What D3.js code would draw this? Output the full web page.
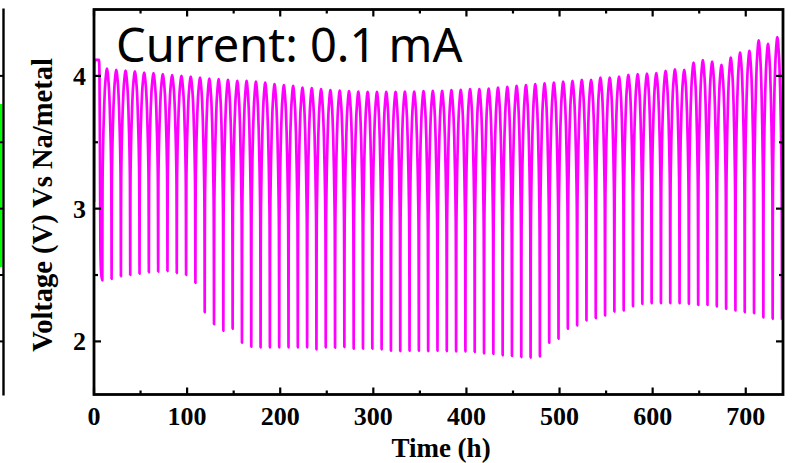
<!DOCTYPE html>
<html><head><meta charset="utf-8">
<script src="https://cdn.jsdelivr.net/npm/d3@7"></script>
<style>body{margin:0;background:#fff}svg{display:block}</style>
</head><body>
<svg id="c" width="795" height="463"></svg>
<script>
// ---- data ----
const timeTicks = [0, 100, 200, 300, 400, 500, 600, 700];
const timeMinorTicks = [50, 150, 250, 350, 450, 550, 650];
const voltTicks = [2, 3, 4];
const voltMinorTicks = [2.5, 3.5];
const title = "Current: 0.1 mA";
const xTitle = "Time (h)";
const yTitle = "Voltage (V) Vs Na/metal";

// first (formation) cycle: [time h, voltage V]
const firstCycle = [[0, 3.05], [0.3, 4.08], [0.8, 4.12], [5.4, 4.12], [5.9, 4.0], [6.4, 3.4], [6.9, 2.7], [7.6, 2.52], [8.9, 2.46]];

// end-of-discharge times (h) and voltages (V)
const troughTimes = [8.9, 18.9, 28.9, 38.9, 48.9, 58.9, 68.9, 78.9, 88.9, 98.9,
  108.9, 118.9, 128.9, 138.9, 148.9, 158.9, 168.9, 178.9, 188.9, 198.9,
  208.9, 218.9, 228.9, 238.9, 248.9, 258.9, 268.9, 278.9, 288.9, 298.9,
  308.9, 318.9, 328.9, 338.9, 348.9, 358.9, 368.9, 378.9, 388.9, 398.9,
  408.9, 418.9, 428.9, 438.9, 448.9, 458.9, 468.9, 478.9, 488.9, 498.9,
  508.9, 518.9, 528.9, 538.9, 548.9, 558.9, 568.9, 578.9, 588.9, 598.9,
  608.9, 618.9, 628.9, 638.9, 648.9, 658.9, 668.9, 678.9, 688.9, 698.9,
  708.9, 718.9, 728.9, 738.9];
const troughV = [2.46, 2.47, 2.49, 2.50, 2.51, 2.52, 2.525, 2.53, 2.515, 2.50,
  2.44, 2.22, 2.13, 2.08, 2.095, 1.99, 1.96, 1.955, 1.955, 1.955,
  1.955, 1.955, 1.955, 1.94, 1.955, 1.953, 1.957, 1.945, 1.945, 1.945,
  1.94, 1.93, 1.927, 1.93, 1.93, 1.927, 1.93, 1.927, 1.925, 1.925,
  1.92, 1.91, 1.905, 1.895, 1.89, 1.882, 1.878, 1.887, 1.99, 2.02,
  2.095, 2.12, 2.158, 2.175, 2.195, 2.225, 2.233, 2.265, 2.283, 2.288,
  2.288, 2.288, 2.288, 2.283, 2.275, 2.275, 2.263, 2.245, 2.233, 2.22,
  2.212, 2.18, 2.17, 2.163];
// end-of-charge voltages of cycles 1..73
const peakV = [4.055, 4.045, 4.04, 4.035, 4.025, 4.02, 4.013, 4.005, 4.0, 3.995,
  3.987, 3.98, 3.975, 3.97, 3.962, 3.962, 3.957, 3.95, 3.938, 3.93,
  3.925, 3.912, 3.908, 3.9, 3.893, 3.89, 3.885, 3.882, 3.88, 3.88,
  3.88, 3.88, 3.882, 3.882, 3.885, 3.887, 3.887, 3.892, 3.895, 3.9,
  3.9, 3.905, 3.912, 3.917, 3.925, 3.93, 3.938, 3.943, 3.95, 3.957,
  3.962, 3.97, 3.97, 3.987, 3.987, 3.995, 4.008, 4.013, 4.018, 4.02,
  4.037, 4.05, 4.045, 4.1, 4.118, 4.107, 4.083, 4.137, 4.175, 4.188,
  4.268, 4.242, 4.293];
// normalised shape of one charge / discharge half cycle [time frac, voltage frac]
const chargeShape = [[0, 0], [0.01, 0.08], [0.03, 0.32], [0.06, 0.46], [0.12, 0.57], [0.25, 0.71], [0.4, 0.82], [0.55, 0.9], [0.75, 0.96], [0.9, 0.99], [1, 1]];
const dischargeShape = [[0, 1], [0.1, 0.99], [0.25, 0.96], [0.45, 0.9], [0.6, 0.82], [0.75, 0.7], [0.88, 0.56], [0.94, 0.45], [0.97, 0.28], [0.99, 0.07], [1, 0]];
const halfCycle = 5; // h

// ---- layout ----
const L = 94, R = 783, T = 9.5, B = 394.5;
const svg = d3.select("#c");
const x = d3.scaleLinear().domain([0, 740]).range([L, R]);
const y = d3.scaleLinear().domain([1.6, 4.5]).range([B, T]);

// neighbour panel edge (cut off on the left)
svg.append("rect").attr("x", 0).attr("y", 104).attr("width", 2.4).attr("height", 163).attr("fill", "#00ff00");
svg.append("line").attr("x1", 3.5).attr("x2", 3.5).attr("y1", T - 1).attr("y2", B + 1).attr("stroke", "#000").attr("stroke-width", 2.4);
svg.selectAll(".nt").data(voltTicks.concat(voltMinorTicks)).join("line")
  .attr("x1", 0).attr("x2", 3.5).attr("y1", d => y(d)).attr("y2", d => y(d))
  .attr("stroke", "#000").attr("stroke-width", 2);

// ---- build the voltage trace ----
const pts = firstCycle.map(d => [d[0], d[1]]);
for (let j = 0; j < peakV.length; j++) {
  const t0 = troughTimes[j], v0 = troughV[j], vp = peakV[j], v1 = troughV[j + 1];
  chargeShape.forEach((s, i) => { if (i > 0) pts.push([t0 + s[0] * halfCycle, v0 + s[1] * (vp - v0)]); });
  dischargeShape.forEach((s, i) => { if (i > 0) pts.push([t0 + halfCycle + s[0] * halfCycle, v1 + s[1] * (vp - v1)]); });
}
svg.append("clipPath").attr("id", "clip").append("rect")
  .attr("x", L).attr("y", T).attr("width", R - L).attr("height", B - T);
svg.append("path").datum(pts)
  .attr("clip-path", "url(#clip)")
  .attr("fill", "none").attr("stroke", "#ff00ff").attr("stroke-width", 2.7)
  .attr("stroke-linejoin", "round")
  .attr("d", d3.line().x(d => x(d[0])).y(d => y(d[1])).curve(d3.curveMonotoneX));

// ---- frame and ticks (inward, mirrored) ----
const tk = 7, mtk = 4;
const gA = svg.append("g").attr("stroke", "#000").attr("stroke-width", 2.2);
timeTicks.forEach(t => {
  gA.append("line").attr("x1", x(t)).attr("x2", x(t)).attr("y1", B).attr("y2", B - tk);
  gA.append("line").attr("x1", x(t)).attr("x2", x(t)).attr("y1", T).attr("y2", T + tk);
});
timeMinorTicks.forEach(t => {
  gA.append("line").attr("x1", x(t)).attr("x2", x(t)).attr("y1", B).attr("y2", B - mtk);
  gA.append("line").attr("x1", x(t)).attr("x2", x(t)).attr("y1", T).attr("y2", T + mtk);
});
voltTicks.forEach(v => {
  gA.append("line").attr("x1", L).attr("x2", L + tk).attr("y1", y(v)).attr("y2", y(v));
  gA.append("line").attr("x1", R).attr("x2", R - tk).attr("y1", y(v)).attr("y2", y(v));
});
voltMinorTicks.forEach(v => {
  gA.append("line").attr("x1", L).attr("x2", L + mtk).attr("y1", y(v)).attr("y2", y(v));
  gA.append("line").attr("x1", R).attr("x2", R - mtk).attr("y1", y(v)).attr("y2", y(v));
});
svg.append("rect").attr("x", L).attr("y", T).attr("width", R - L).attr("height", B - T)
  .attr("fill", "none").attr("stroke", "#000").attr("stroke-width", 2.8);

// ---- labels ----
const serif = "'Liberation Serif','Times New Roman',serif";
svg.selectAll(".xl").data(timeTicks).join("text")
  .attr("x", d => x(d)).attr("y", 425).attr("text-anchor", "middle")
  .attr("font-family", serif).attr("font-weight", "bold").attr("font-size", 26).text(d => d);
svg.selectAll(".yl").data(voltTicks).join("text")
  .attr("x", 86).attr("y", d => y(d) + 9).attr("text-anchor", "end")
  .attr("font-family", serif).attr("font-weight", "bold").attr("font-size", 26).text(d => d);
svg.append("text").attr("x", 441).attr("y", 457).attr("text-anchor", "middle")
  .attr("font-family", serif).attr("font-weight", "bold").attr("font-size", 27).text(xTitle);
svg.append("text").attr("transform", "translate(52,205) rotate(-90)").attr("text-anchor", "middle")
  .attr("font-family", serif).attr("font-weight", "bold").attr("font-size", 28.5).text(yTitle);
svg.append("text").attr("x", 116).attr("y", 62)
  .attr("font-family", "'Noto Sans','DejaVu Sans',sans-serif").attr("font-size", 47).attr("fill", "#000").text(title);
</script>
</body></html>
